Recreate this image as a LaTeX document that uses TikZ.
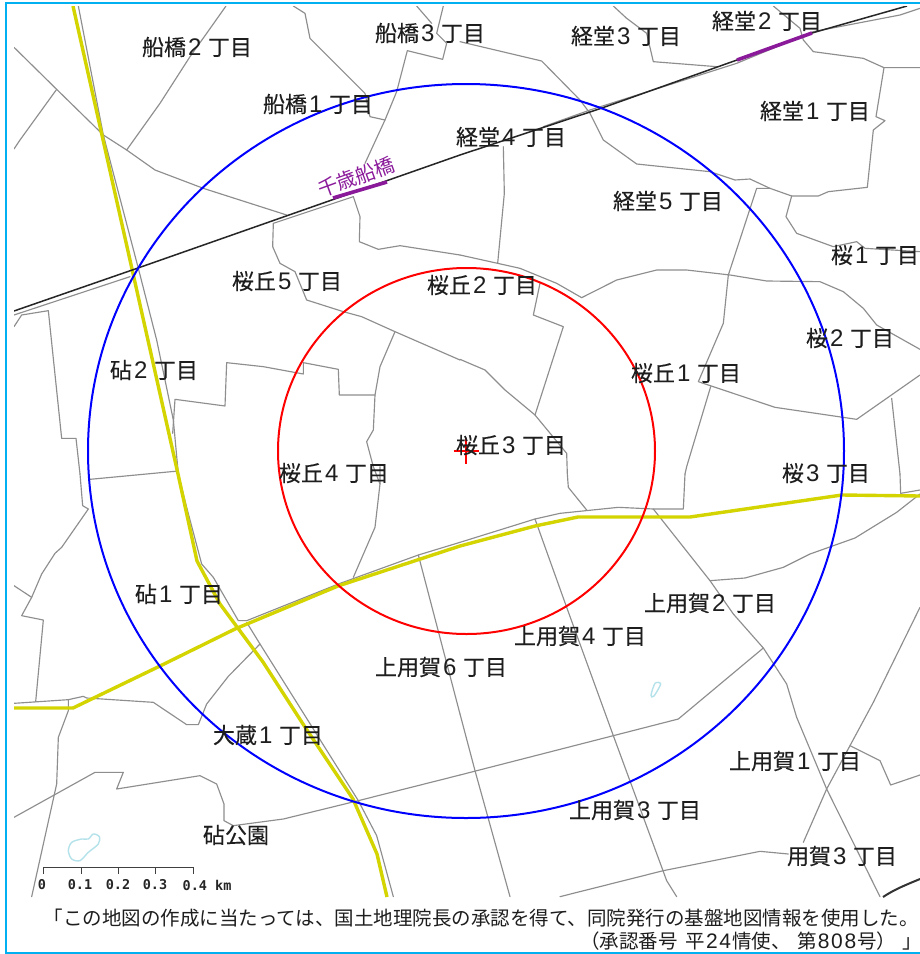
\documentclass[tikz,border=0pt]{standalone}
\usepackage{fontspec}
\setmainfont{Noto Sans CJK JP}
\newfontfamily\placefamily{Noto Sans CJK JP}[FakeBold=0.25]
\newfontfamily\digitfamily{Liberation Sans}
\newfontfamily\scalefont{DejaVu Sans Mono}[BoldFont={DejaVu Sans Mono Bold}]
\newcommand\pd[1]{\makebox[22pt][l]{\kern2pt\digitfamily\fontsize{24}{24}\selectfont #1}}
\newcommand\cd[1]{\makebox[13.4pt]{\digitfamily\fontsize{21}{21}\selectfont #1}}
\definecolor{bordercyan}{HTML}{00B0F0}
\definecolor{roadgray}{HTML}{8E8E8E}
\definecolor{roadyellow}{HTML}{D4D400}
\definecolor{trainpurple}{HTML}{8B1A9B}
\definecolor{waterblue}{HTML}{B4E2EA}
\definecolor{inkdark}{HTML}{1E1E1E}
\tikzset{
  z1/.style={x=0.33333pt,y=-0.33333pt},
  z2/.style={x=0.33333pt,y=-0.33333pt,xshift=460pt},
  z3/.style={x=0.33333pt,y=-0.33333pt,yshift=-474pt},
  z4/.style={x=0.33333pt,y=-0.33333pt,xshift=460pt,yshift=-474pt},
  gr/.style={draw=roadgray,line width=1.15pt,line join=round,line cap=round},
  yl/.style={draw=roadyellow,line width=3.4pt,line join=round},
  water/.style={draw=waterblue,line width=1.4pt},
  place/.style={font=\placefamily\fontsize{22}{22}\selectfont,text=inkdark,inner sep=0pt},
  caption/.style={font=\fontsize{19.5}{20}\selectfont,text=inkdark,inner sep=0pt},
  tick/.style={draw=black!75,line width=1pt},
  scaletext/.style={font=\scalefont\bfseries\fontsize{13.5}{14}\selectfont,text=black!85,inner sep=0pt},
}
\begin{document}
\begin{tikzpicture}[x=1pt,y=-1pt]
\useasboundingbox (0,0) rectangle (920,954);
\fill[white] (0,0) rectangle (920,954);
\draw[bordercyan,line width=2pt] (920,3) -- (6,3) -- (6,953) -- (920,953);
\begin{scope}
\clip (14,6) rectangle (920,897);
% --- gray boundaries, upper left
\draw[gr,z1] (42,142) -- (170,268) -- (310,405) -- (380,450) -- (465,510) -- (610,565) -- (860,645);
\draw[gr,z1] (170,268) -- (60,420) -- (42,447);
\draw[gr,z1] (380,450) -- (480,310) -- (570,170) -- (620,100) -- (678,18);
\draw[gr,z1] (235,18) -- (310,405) -- (415,805) -- (470,1020) -- (520,1260) -- (535,1422);
\draw[gr,z1] (880,18) -- (915,40) -- (930,115) -- (1095,280) -- (1110,350) -- (1155,360);
\draw[gr,z1] (1250,18) -- (1295,70);
\draw[gr,z1] (1330,18) -- (1310,100) -- (1340,130) -- (1328,178) -- (1222,152) -- (1190,275) -- (1155,360) -- (1095,490);
\draw[gr,z1] (820,670) -- (818,740) -- (840,790) -- (885,815) -- (920,900) -- (1030,935) -- (1085,950) -- (1185,995) -- (1380,1080);
\draw[gr,z1] (1185,995) -- (1140,1100) -- (1125,1185) -- (1120,1290) -- (1100,1325) -- (1120,1400) -- (1140,1452);
\draw[gr,z1] (1125,1185) -- (1018,1185) -- (1015,1108) -- (910,1088) -- (910,1122) -- (790,1100) -- (680,1088) -- (675,1218) -- (525,1198) -- (518,1300);
\draw[gr,z1] (1060,590) -- (1080,650) -- (1078,725) -- (1135,748) -- (1200,737) -- (1380,765);
\draw[gr,z1] (42,980) -- (65,945) -- (145,932) -- (185,1315) -- (228,1315) -- (240,1422);
\draw[gr,z1] (270,1438) -- (535,1413);
\draw[gr,z1] (42,945) -- (390,830);
\draw[gr,z1] (820,670) -- (1060,590);
% --- gray boundaries, upper right
\draw[gr,z2] (0,125) -- (245,183) -- (360,300) -- (390,340) -- (430,420) -- (530,492) -- (750,515) -- (825,540) -- (870,537) -- (930,565) -- (995,588) -- (1075,588) -- (1105,575) -- (1222,562) -- (1240,390) -- (1275,362) -- (1248,350) -- (1272,203) -- (1380,203);
\draw[gr,z2] (1272,203) -- (1210,175) -- (1060,155) -- (1030,120) -- (1020,85) -- (940,18);
\draw[gr,z2] (460,18) -- (500,55) -- (560,100) -- (580,185) -- (770,200);
\draw[gr,z2] (995,588) -- (978,650) -- (1010,700) -- (1120,740) -- (1190,725) -- (1215,745) -- (1380,755);
\draw[gr,z2] (930,565) -- (890,565) -- (805,825) -- (790,970) -- (715,1145) -- (945,1222) -- (1190,1258) -- (1380,1125);
\draw[gr,z2] (752,1160) -- (680,1400) -- (675,1422);
\draw[gr,z2] (1295,1195) -- (1320,1422);
\draw[gr,z2] (365,893) -- (470,840) -- (590,810) -- (680,810) -- (810,825) -- (920,843) -- (1080,845) -- (1150,875) -- (1210,925) -- (1250,975) -- (1380,1048);
\draw[gr,z2] (0,765) -- (113,790) -- (180,805) -- (290,850) -- (365,893);
\draw[gr,z2] (113,790) -- (133,580) -- (130,440);
\draw[gr,z2] (240,850) -- (220,945) -- (310,980) -- (225,1245);
\draw[gr,z2] (0,1078) -- (75,1110) -- (135,1170) -- (225,1245) -- (320,1360) -- (322,1422);
\draw[gr,z2] (250,380) -- (390,330) -- (830,190) -- (1060,95) -- (1320,45) -- (1380,25);
% --- gray boundaries, lower left
\draw[gr,z3] (535,0) -- (560,100) -- (605,270) -- (640,310) -- (715,440) -- (740,440) -- (1015,330) -- (1255,243) -- (1380,205);
\draw[gr,z3] (740,445) -- (780,510) -- (1075,980) -- (1130,1085) -- (1180,1268);
\draw[gr,z3] (240,0) -- (248,95) -- (265,105) -- (185,220) -- (165,238) -- (125,300) -- (95,370) -- (65,425) -- (130,438) -- (107,683);
\draw[gr,z3] (42,335) -- (95,370);
\draw[gr,z3] (42,688) -- (205,677) -- (250,667) -- (260,672) -- (460,685) -- (560,752) -- (595,752) -- (620,690) -- (685,607) -- (780,510);
\draw[gr,z3] (205,677) -- (205,710) -- (175,790) -- (170,930) -- (95,1268);
\draw[gr,z3] (42,1030) -- (285,895) -- (370,895) -- (350,945) -- (600,905) -- (650,930) -- (672,990) -- (672,1040) -- (700,1055) -- (850,1035) -- (1075,980) -- (1380,903);
\draw[gr,z3] (1255,243) -- (1380,720);
\draw[gr,z3] (1140,-22) -- (1140,30) -- (1125,160) -- (1060,310);
% --- gray boundaries, lower right
\draw[gr,z4] (0,205) -- (225,135) -- (300,118) -- (475,100) -- (580,105) -- (670,105) -- (675,0);
\draw[gr,z4] (322,0) -- (325,40) -- (380,108);
\draw[gr,z4] (1320,0) -- (1322,58) -- (1380,48);
\draw[gr,z4] (0,903) -- (460,785) -- (655,735) -- (910,522);
\draw[gr,z4] (0,720) -- (45,890) -- (150,1268);
\draw[gr,z4] (225,135) -- (320,400) -- (460,785) -- (620,1220) -- (650,1268);
\draw[gr,z4] (580,105) -- (750,320) -- (820,420) -- (910,522) -- (980,630) -- (1010,730) -- (1100,945) -- (1260,1268);
\draw[gr,z4] (750,320) -- (855,312) -- (970,280) -- (1050,240) -- (1185,192) -- (1310,115) -- (1380,60);
\draw[gr,z4] (1380,400) -- (1240,685) -- (1170,815) -- (1100,945) -- (1030,1105);
\draw[gr,z4] (1170,815) -- (1260,860) -- (1292,933) -- (1380,903);
\draw[gr,z4] (300,1268) -- (610,1190) -- (900,1132) -- (985,1140);
% --- water
\draw[water,z3] plot[smooth cycle] coordinates {(205,1130) (215,1105) (245,1095) (265,1095) (280,1080) (298,1088) (295,1110) (265,1135) (240,1160) (215,1155)};
\draw[water,z4] plot[smooth cycle] coordinates {(585,628) (602,630) (582,666) (573,664)};
% --- yellow roads
\draw[yl] (73,6) -- (178,474) -- (197,561) -- (220,604) -- (263,662) -- (303,724) -- (353,799) -- (377,854) -- (387,897);
\draw[yl] (14,708) -- (73,708) -- (160,666) -- (235,629) -- (338,586) -- (460,546) -- (535,526) -- (578,517) -- (690,517) -- (842,495) -- (920,496);
% --- railway
\draw[black!85,line width=1.5pt] (14,311) -- (138,268) -- (460,155) -- (602,108) -- (737,60) -- (812,33) -- (907,6);
\draw[trainpurple,line width=3.6pt] (333,198) -- (387,182);
\draw[trainpurple,line width=3.6pt] (737,60) -- (812,33);
\draw[black!80,line width=2pt] (883,897) .. controls (895,889) and (908,884) .. (920,879);
\end{scope}
% --- circles and centre mark
\draw[blue,line width=2pt] (466,451) ellipse [x radius=378,y radius=367];
\draw[red,line width=2pt] (466.5,451) ellipse [x radius=188.5,y radius=183];
\draw[red,line width=2pt] (453.5,451) -- (479,451) (466,438) -- (466,464);
% --- labels
\node[place] (n1) at (197,47) {船橋\pd{2}丁目};
\node[place] (n2) at (430,33) {船橋\pd{3}丁目};
\node[place] (n3) at (318,104) {船橋\pd{1}丁目};
\node[place] (n4) at (626,36) {経堂\pd{3}丁目};
\node[place] (n5) at (767,21) {経堂\pd{2}丁目};
\node[place] (n6) at (815,111) {経堂\pd{1}丁目};
\node[place] (n7) at (511,137) {経堂\pd{4}丁目};
\node[place] (n8) at (668,201) {経堂\pd{5}丁目};
\node[place] (n9) at (875,255) {桜\pd{1}丁目};
\node[place] (n10) at (287,281) {桜丘\pd{5}丁目};
\node[place] (n11) at (482,285) {桜丘\pd{2}丁目};
\node[place] (n12) at (850,338) {桜\pd{2}丁目};
\node[place] (n13) at (686,373) {桜丘\pd{1}丁目};
\node[place] (n14) at (154,370) {砧\pd{2}丁目};
\node[place] (n15) at (511,445) {桜丘\pd{3}丁目};
\node[place] (n16) at (334,473) {桜丘\pd{4}丁目};
\node[place] (n17) at (826,473) {桜\pd{3}丁目};
\node[place] (n18) at (179,594) {砧\pd{1}丁目};
\node[place] (n19) at (710,603) {上用賀\pd{2}丁目};
\node[place] (n20) at (580,636) {上用賀\pd{4}丁目};
\node[place] (n21) at (441,667) {上用賀\pd{6}丁目};
\node[place] (n22) at (268,735) {大蔵\pd{1}丁目};
\node[place] (n23) at (795,761) {上用賀\pd{1}丁目};
\node[place] (n24) at (635,810) {上用賀\pd{3}丁目};
\node[place] (n25) at (236,835) {砧公園};
\node[place] (n26) at (842,856) {用賀\pd{3}丁目};
\node[font=\fontsize{20}{20}\selectfont,text=trainpurple,inner sep=0pt,rotate=20] (st) at (356,177) {千歳船橋};
% --- scale bar
\draw[tick] (43,874) -- (43,867) -- (193,867) -- (193,874);
\draw[tick] (81,867) -- (81,874) (118,867) -- (118,874) (155,867) -- (155,874);
\node[scaletext] (s0) at (42,885) {0};
\node[scaletext] (s1) at (80,885) {0.1};
\node[scaletext] (s2) at (118,885) {0.2};
\node[scaletext] (s3) at (155,885) {0.3};
\node[scaletext,anchor=west] (s4) at (182.5,885) {0.4 km};
% --- caption
\node[caption,anchor=east] (c1) at (919,918) {「この地図の作成に当たっては、国土地理院長の承認を得て、同院発行の基盤地図情報を使用した。};
\node[caption,anchor=west] (c2) at (580,941) {（承認番号\kern8pt 平\cd{2}\cd{4}情使、\kern7pt 第\cd{8}\cd{0}\cd{8}号）\kern6pt 」};
\end{tikzpicture}
\end{document}
